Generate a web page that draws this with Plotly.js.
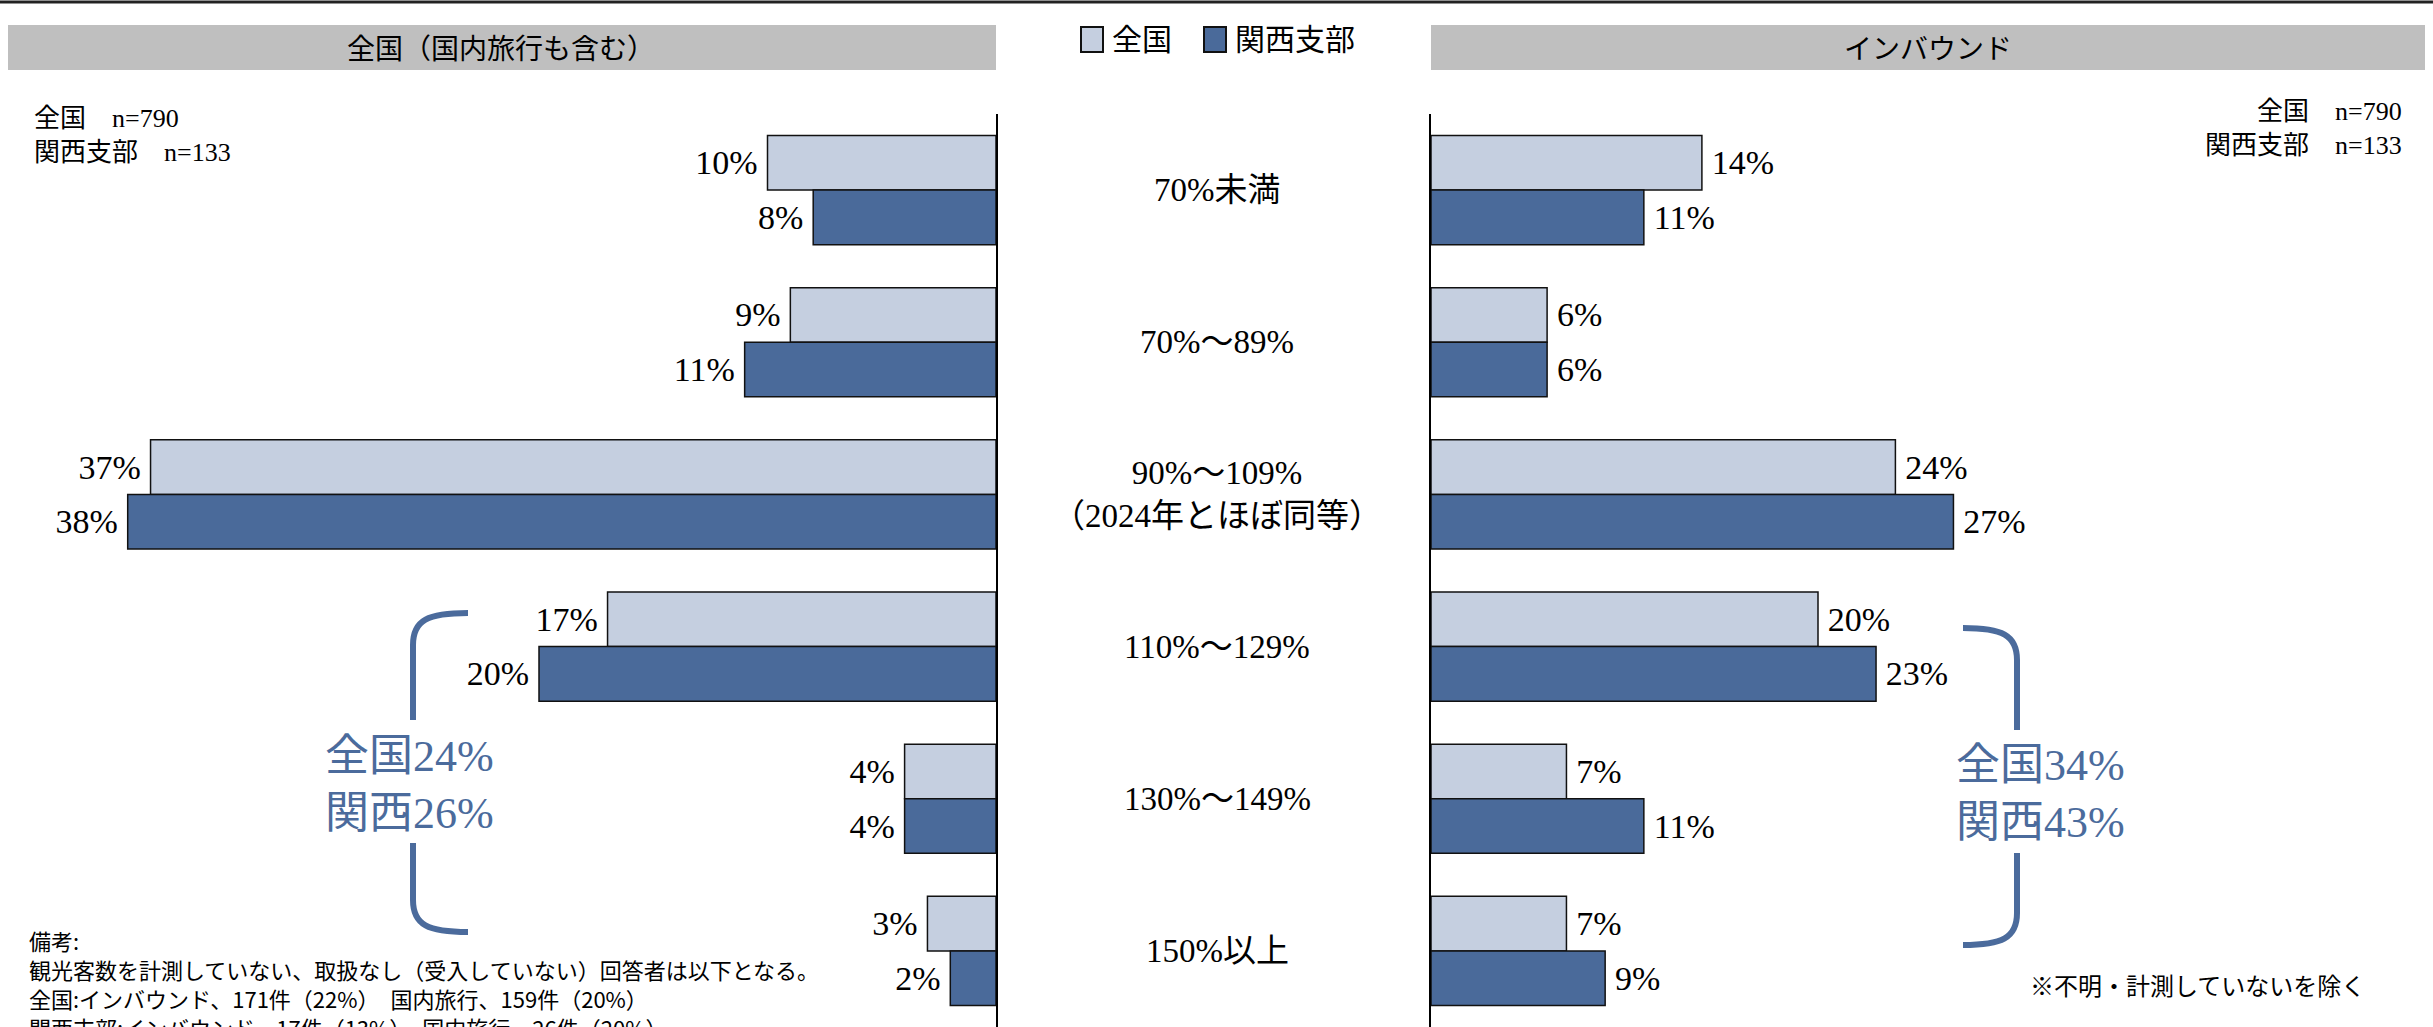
<!DOCTYPE html>
<html>
<head>
<meta charset="utf-8">
<script src="https://cdn.plot.ly/plotly-3.0.1.min.js"></script>
<style>html,body{margin:0;padding:0;background:#fff;}#chart{width:2433px;height:1027px;}</style>
</head>
<body>
<div id="chart"></div>
<script>
// ---- data ----
var categories = ["70%未満", "70%～89%", "90%～109%<br>（2024年とほぼ同等）", "110%～129%", "130%～149%", "150%以上"];
var seriesNames = ["全国", "関西支部"];
var domesticZenkoku = [10, 9, 37, 17, 4, 3];
var domesticKansai  = [8, 11, 38, 20, 4, 2];
var inboundZenkoku  = [14, 6, 24, 20, 7, 7];
var inboundKansai   = [11, 6, 27, 23, 11, 9];
var panelTitles = ["全国（国内旅行も含む）", "インバウンド"];
var sampleText = ["全国　n=790", "関西支部　n=133"];
var bracketLeft = ["全国24%", "関西26%"];
var bracketRight = ["全国34%", "関西43%"];
var notes = ["備考:", "観光客数を計測していない、取扱なし（受入していない）回答者は以下となる。",
  "全国:インバウンド、171件（22%）　国内旅行、159件（20%）",
  "関西支部:インバウンド、17件（13%）　国内旅行、26件（20%）"];
var footnote = "※不明・計測していないを除く";

// ---- style ----
var W = 2433, H = 1027;
function px(x){ return x / W; }
function py(y){ return 1 - y / H; }
var LIGHT = "#C5CFE0", DARK = "#4A6A9A", BRACKET = "#4B6B9C";
var SERIF = "Liberation Serif, 'Noto Sans CJK JP', serif";
var SANS = "'Noto Sans CJK JP', sans-serif";

function barTrace(vals, name, color, xa, ya, tmpl){
  return {
    type: "bar", orientation: "h", name: name,
    x: vals, y: categories, xaxis: xa, yaxis: ya,
    marker: {color: color, line: {color: "#111", width: 1.5}},
    texttemplate: tmpl, textposition: "outside", cliponaxis: false,
    constraintext: "none",
    textfont: {family: SERIF, size: 34, color: "#000"},
    hoverinfo: "skip", showlegend: false
  };
}

var data = [
  barTrace(domesticZenkoku, seriesNames[0], LIGHT, "x", "y", "%{x}%\u2009"),
  barTrace(domesticKansai, seriesNames[1], DARK, "x", "y", "%{x}%\u2009"),
  barTrace(inboundZenkoku, seriesNames[0], LIGHT, "x2", "y2", "\u2009%{x}%"),
  barTrace(inboundKansai, seriesNames[1], DARK, "x2", "y2", "\u2009%{x}%")
];

var yDom = [0, 0.889];
var leftEnd = 996, rightStart = 1431;

var layout = {
  width: W, height: H,
  margin: {l: 0, r: 0, t: 0, b: 0},
  paper_bgcolor: "#fff", plot_bgcolor: "rgba(0,0,0,0)",
  barmode: "group", bargap: 0.283, bargroupgap: 0,
  font: {family: SERIF, color: "#000"},
  xaxis: {domain: [0, px(leftEnd)], range: [leftEnd / 22.85, 0], showgrid: false, zeroline: false,
          showticklabels: false, showline: false, ticks: "", anchor: "y", fixedrange: true},
  yaxis: {domain: yDom, type: "category", categoryorder: "array", categoryarray: categories,
          autorange: "reversed", side: "right", anchor: "x", showline: true, linecolor: "#000", linewidth: 2,
          showgrid: false, zeroline: false, showticklabels: false, ticks: ""},
  xaxis2: {domain: [px(rightStart), 1], range: [0, (W - rightStart) / 19.35], showgrid: false, zeroline: false,
          showticklabels: false, showline: false, ticks: "", anchor: "y2"},
  yaxis2: {domain: yDom, type: "category", categoryorder: "array", categoryarray: categories,
          autorange: "reversed", side: "left", anchor: "x2", showline: true, linecolor: "#000", linewidth: 2,
          showgrid: false, zeroline: false, showticklabels: false, ticks: ""},
  shapes: [
    {type: "line", xref: "paper", yref: "paper", x0: 0, x1: 1, y0: py(2), y1: py(2), line: {color: "#222", width: 3}},
    {type: "rect", xref: "paper", yref: "paper", x0: px(8), x1: px(996), y0: py(25), y1: py(70), fillcolor: "#BFBFBF", line: {width: 0}},
    {type: "rect", xref: "paper", yref: "paper", x0: px(1431), x1: px(2425), y0: py(25), y1: py(70), fillcolor: "#BFBFBF", line: {width: 0}},
    // legend swatches
    {type: "rect", xref: "paper", yref: "paper", x0: px(1081), x1: px(1103), y0: py(27), y1: py(52), fillcolor: LIGHT, line: {color: "#111", width: 2}},
    {type: "rect", xref: "paper", yref: "paper", x0: px(1204), x1: px(1226), y0: py(27), y1: py(52), fillcolor: DARK, line: {color: "#111", width: 2}},
    // brackets
    {type: "path", xref: "paper", yref: "paper", line: {color: BRACKET, width: 6},
     path: "M" + px(468) + "," + py(613) + " C" + px(428) + "," + py(613) + " " + px(413) + "," + py(620) + " " + px(413) + "," + py(645) + " L" + px(413) + "," + py(720)},
    {type: "path", xref: "paper", yref: "paper", line: {color: BRACKET, width: 6},
     path: "M" + px(413) + "," + py(843) + " L" + px(413) + "," + py(900) + " C" + px(413) + "," + py(925) + " " + px(428) + "," + py(932) + " " + px(468) + "," + py(932)},
    {type: "path", xref: "paper", yref: "paper", line: {color: BRACKET, width: 6},
     path: "M" + px(1963) + "," + py(628) + " C" + px(2002) + "," + py(628) + " " + px(2017) + "," + py(635) + " " + px(2017) + "," + py(660) + " L" + px(2017) + "," + py(730)},
    {type: "path", xref: "paper", yref: "paper", line: {color: BRACKET, width: 6},
     path: "M" + px(2017) + "," + py(853) + " L" + px(2017) + "," + py(913) + " C" + px(2017) + "," + py(938) + " " + px(2002) + "," + py(945) + " " + px(1963) + "," + py(945)}
  ],
  annotations: []
};

var A = layout.annotations;
// panel headers
A.push({xref: "paper", yref: "paper", x: px(501), y: py(47), text: panelTitles[0], showarrow: false,
        font: {family: SANS, size: 28, color: "#000"}, xanchor: "center", yanchor: "middle"});
A.push({xref: "paper", yref: "paper", x: px(1928), y: py(47), text: panelTitles[1], showarrow: false,
        font: {family: SANS, size: 28, color: "#000"}, xanchor: "center", yanchor: "middle"});
// legend labels
A.push({xref: "paper", yref: "paper", x: px(1110), y: py(40), text: seriesNames[0], showarrow: false,
        font: {family: SERIF, size: 30}, xanchor: "left", yanchor: "middle"});
A.push({xref: "paper", yref: "paper", x: px(1233), y: py(40), text: seriesNames[1], showarrow: false,
        font: {family: SERIF, size: 30}, xanchor: "left", yanchor: "middle"});
// category labels (center)
categories.forEach(function(c){
  A.push({xref: "paper", yref: "y", x: px(1217), y: c, text: c, showarrow: false,
          font: {family: SERIF, size: 33, color: "#000"}, xanchor: "center", yanchor: "middle"});
});
// sample sizes
A.push({xref: "paper", yref: "paper", x: px(32), y: py(136), text: sampleText.join("<br>"), showarrow: false, align: "left",
        font: {family: SERIF, size: 26}, xanchor: "left", yanchor: "middle"});
A.push({xref: "paper", yref: "paper", x: px(2404), y: py(128), text: sampleText.join("<br>"), showarrow: false, align: "right",
        font: {family: SERIF, size: 26}, xanchor: "right", yanchor: "middle"});
// bracket texts
A.push({xref: "paper", yref: "paper", x: px(410), y: py(785), text: bracketLeft.join("<br>"), showarrow: false,
        font: {family: SERIF, size: 44, color: BRACKET}, xanchor: "center", yanchor: "middle"});
A.push({xref: "paper", yref: "paper", x: px(2040), y: py(794), text: bracketRight.join("<br>"), showarrow: false,
        font: {family: SERIF, size: 44, color: BRACKET}, xanchor: "center", yanchor: "middle"});
// notes
var noteY = [940, 969, 998, 1027];
notes.forEach(function(t, i){
  A.push({xref: "paper", yref: "paper", x: px(27), y: py(noteY[i]), text: t, showarrow: false,
          font: {family: SANS, size: 22, color: "#000"}, xanchor: "left", yanchor: "middle"});
});
A.push({xref: "paper", yref: "paper", x: px(2028), y: py(984), text: footnote, showarrow: false,
        font: {family: SANS, size: 24, color: "#000"}, xanchor: "left", yanchor: "middle"});

Plotly.newPlot("chart", data, layout, {displayModeBar: false, staticPlot: true});
</script>
</body>
</html>
